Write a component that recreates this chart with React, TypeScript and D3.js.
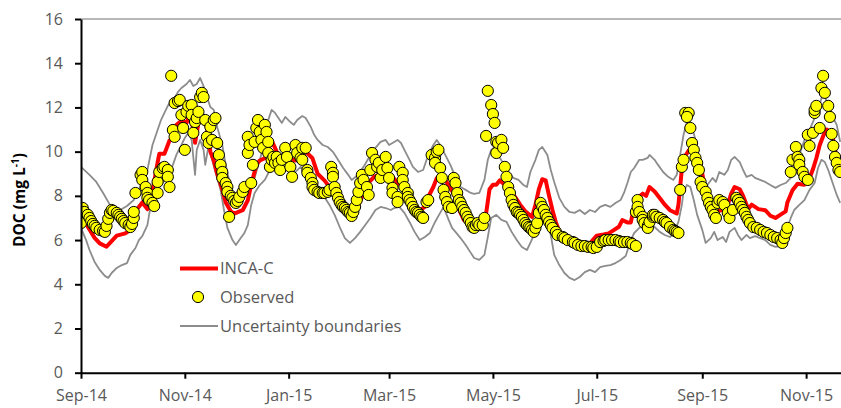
import React, { useEffect, useRef } from 'react';
import * as d3 from 'd3';

// days counted from 1 Sep 2014, DOC in mg/L
const START = Date.UTC(2014, 8, 1);
const LAST_DAY = 446.5;

const incaC: [number, number][] = [
  [0, 7.7], [4, 6.6], [8, 6.1], [11, 5.85], [15, 5.7], [18, 5.95], [21, 6.2], [26, 6.3], [29, 6.45], [31, 6.7],
  [33, 7.4], [36, 7.7], [39, 7.4], [41, 7.6], [42, 8.2], [45, 9.5], [46, 9.9], [49, 9.9], [51, 10.3], [52, 10.5],
  [55, 10.6], [56, 11.2], [59, 11.4], [62, 11.3], [64, 11.7], [66, 11.0], [67, 10.4], [69, 11.3], [70, 11.9], [72, 11.4],
  [74, 11.1], [76, 10.0], [78, 9.6], [80, 9.0], [83, 8.3], [85, 7.7], [88, 7.3], [90, 7.2], [95, 7.35], [98, 7.8],
  [100, 8.5], [103, 9.4], [105, 9.6], [108, 9.7], [110, 10.1], [112, 10.5], [115, 10.0], [117, 9.8], [122, 9.7], [126, 9.6],
  [129, 9.8], [132, 10.0], [136, 9.7], [139, 9.0], [143, 8.7], [146, 8.4], [151, 8.2], [154, 7.7], [157, 7.4], [160, 7.2],
  [163, 7.6], [166, 8.1], [169, 8.6], [172, 8.85], [176, 9.0], [180, 8.9], [183, 8.85], [186, 8.6], [189, 8.4], [191, 8.1],
  [193, 7.95], [196, 7.6], [199, 7.35], [202, 7.5], [203, 7.8], [207, 8.4], [209, 8.8], [211, 8.95], [213, 8.8], [215, 8.6],
  [219, 8.1], [222, 7.4], [225, 6.9], [229, 6.7], [232, 6.7], [236, 6.9], [238, 7.2], [240, 8.3], [242, 8.5], [244, 8.5],
  [246, 8.7], [249, 8.5], [252, 8.2], [255, 7.95], [258, 7.6], [261, 7.3], [265, 7.05], [267, 7.6], [269, 8.3], [271, 8.75],
  [273, 8.7], [275, 8.0], [277, 7.35], [279, 6.8], [281, 6.4], [285, 6.0], [288, 5.85], [292, 5.75], [296, 5.75], [299, 5.85],
  [303, 6.2], [307, 6.25], [310, 6.3], [313, 6.45], [316, 6.6], [318, 6.9], [321, 6.8], [323, 6.8], [325, 7.5], [327, 7.9],
  [330, 8.1], [332, 8.0], [334, 8.4], [337, 8.2], [340, 7.9], [343, 7.6], [346, 7.35], [350, 7.2], [351, 7.6], [353, 9.2],
  [355, 9.8], [357, 10.05], [359, 10.0], [361, 9.6], [364, 9.4], [366, 8.6], [368, 7.6], [371, 7.3], [374, 7.3], [378, 7.4],
  [380, 7.6], [382, 8.1], [384, 8.4], [387, 8.3], [389, 8.0], [392, 7.4], [394, 7.6], [398, 7.4], [402, 7.35], [405, 7.1],
  [408, 7.0], [411, 7.15], [414, 7.3], [415, 7.7], [418, 8.25], [421, 8.55], [425, 8.5], [428, 8.8], [430, 9.2], [432, 9.7],
  [434, 10.3], [436, 10.7], [438, 11.0], [440, 10.9], [442, 10.5], [444, 9.7], [446, 9.2]
];

const upperBound: [number, number][] = [
  [0, 9.31], [5, 8.95], [9, 8.63], [13, 8.13], [17, 7.59], [20, 7.27], [23, 7.36], [27, 7.54], [31, 7.81], [33, 8.13],
  [36, 8.58], [39, 9.17], [42, 10.3], [45, 10.98], [47, 11.43], [49, 11.75], [51, 12.07], [53, 12.29], [55, 12.43], [57, 12.7],
  [59, 12.88], [62, 13.06], [64, 13.24], [66, 12.97], [68, 13.06], [70, 13.33], [72, 12.97], [73, 12.7], [76, 12.02], [78, 11.89],
  [80, 11.12], [83, 10.3], [85, 9.4], [88, 8.4], [90, 7.95], [92, 7.81], [95, 7.95], [97, 8.13], [99, 8.4], [102, 8.81],
  [105, 9.63], [108, 10.39], [110, 11.43], [112, 11.89], [114, 11.75], [116, 11.52], [118, 11.3], [120, 11.57], [123, 11.34], [125, 11.21],
  [127, 11.43], [130, 11.61], [132, 11.52], [135, 11.12], [137, 10.76], [139, 10.53], [142, 10.3], [145, 10.21], [148, 9.99], [151, 9.63],
  [154, 9.26], [157, 8.95], [159, 8.72], [162, 8.9], [164, 9.08], [167, 9.44], [170, 9.85], [173, 10.17], [176, 10.44], [179, 10.53],
  [181, 10.3], [183, 10.39], [186, 10.53], [188, 10.39], [190, 10.08], [193, 9.63], [195, 9.31], [198, 9.08], [201, 9.17], [204, 9.85],
  [207, 10.3], [209, 10.53], [211, 10.3], [214, 9.85], [217, 9.4], [220, 8.86], [223, 8.4], [226, 8.27], [229, 8.13], [231, 8.09],
  [234, 8.13], [237, 8.72], [239, 9.63], [241, 10.08], [243, 10.21], [245, 9.85], [248, 9.49], [251, 9.08], [254, 8.81], [257, 8.72],
  [260, 8.49], [262, 8.4], [264, 9.08], [267, 9.63], [269, 10.08], [271, 10.21], [274, 9.85], [276, 9.17], [278, 8.63], [281, 7.91],
  [284, 7.5], [287, 7.27], [290, 7.23], [293, 7.36], [296, 7.18], [299, 7.36], [302, 7.27], [305, 7.5], [308, 7.59], [311, 7.5],
  [314, 7.68], [317, 7.81], [319, 8.13], [321, 8.58], [323, 9.08], [325, 9.26], [328, 9.63], [330, 9.63], [333, 9.72], [334, 9.85],
  [337, 9.63], [339, 9.4], [342, 9.08], [345, 8.86], [348, 8.72], [350, 8.95], [352, 9.85], [354, 10.76], [356, 11.34], [357, 11.43],
  [359, 11.12], [361, 10.53], [363, 9.63], [365, 8.72], [368, 8.49], [371, 8.81], [373, 8.63], [375, 9.08], [378, 8.95], [380, 9.17],
  [382, 9.63], [384, 9.76], [387, 9.53], [389, 9.17], [391, 8.86], [394, 8.95], [396, 8.81], [399, 8.72], [402, 8.63], [405, 8.49],
  [408, 8.36], [411, 8.49], [414, 8.58], [417, 8.81], [419, 9.17], [422, 9.85], [425, 10.53], [428, 10.98], [431, 11.52], [434, 12.11],
  [435, 12.43], [437, 12.47], [439, 12.11], [441, 11.66], [444, 11.21], [446, 10.44]
];

const lowerBound: [number, number][] = [
  [0, 6.55], [3, 6.0], [5, 5.55], [8, 5.01], [11, 4.65], [14, 4.38], [16, 4.29], [18, 4.51], [21, 4.74], [24, 4.87],
  [27, 4.96], [29, 5.33], [32, 5.64], [34, 6.0], [36, 6.18], [39, 6.68], [41, 7.59], [43, 8.04], [45, 8.36], [48, 8.58],
  [51, 8.95], [54, 9.4], [56, 9.85], [59, 10.3], [61, 10.62], [63, 10.85], [65, 10.53], [67, 8.95], [68, 10.08], [70, 10.53],
  [72, 10.08], [73, 9.4], [75, 10.3], [77, 9.63], [79, 9.08], [82, 8.27], [84, 7.36], [86, 6.55], [89, 6.0], [91, 5.78],
  [93, 6.0], [96, 6.32], [98, 6.68], [100, 7.59], [102, 8.13], [105, 8.49], [108, 8.72], [111, 9.17], [113, 9.53], [116, 9.4],
  [118, 9.17], [120, 9.31], [123, 9.17], [126, 9.08], [129, 9.31], [132, 9.17], [135, 8.95], [137, 8.49], [140, 8.18], [143, 7.95],
  [146, 7.59], [149, 7.14], [152, 6.59], [155, 6.09], [158, 5.87], [161, 6.09], [164, 6.37], [167, 6.68], [170, 7.0], [173, 7.36],
  [176, 7.5], [179, 7.45], [182, 7.36], [184, 7.45], [187, 7.5], [190, 7.23], [193, 6.82], [196, 6.37], [199, 6.0], [202, 6.14],
  [205, 6.32], [208, 6.82], [211, 7.23], [213, 7.5], [216, 6.91], [218, 6.55], [220, 6.37], [223, 6.09], [226, 5.78], [229, 5.42],
  [231, 5.19], [234, 5.1], [237, 5.33], [239, 6.14], [241, 7.0], [244, 7.14], [247, 6.91], [250, 6.82], [253, 6.37], [256, 6.0],
  [259, 5.69], [262, 5.55], [264, 5.87], [267, 6.37], [268, 7.05], [271, 7.23], [273, 6.91], [276, 6.23], [278, 5.33], [281, 4.87],
  [284, 4.51], [287, 4.29], [290, 4.19], [293, 4.33], [296, 4.55], [299, 4.65], [302, 4.55], [305, 4.78], [308, 4.83], [311, 4.87],
  [314, 4.96], [317, 5.1], [320, 5.28], [323, 6.0], [325, 6.32], [328, 6.55], [331, 6.68], [334, 6.82], [337, 6.59], [340, 6.37],
  [343, 6.23], [346, 6.14], [348, 6.28], [351, 6.82], [353, 7.59], [354, 8.18], [356, 8.49], [358, 8.4], [360, 7.81], [362, 7.14],
  [365, 6.46], [367, 5.87], [370, 6.09], [372, 6.37], [374, 6.0], [377, 6.14], [379, 5.91], [381, 6.37], [384, 6.55], [386, 6.23],
  [388, 6.0], [391, 6.23], [393, 6.09], [396, 6.18], [399, 6.09], [402, 6.0], [405, 5.78], [408, 5.69], [411, 5.73], [414, 6.37],
  [417, 7.0], [419, 7.36], [422, 7.59], [425, 7.81], [428, 8.27], [431, 8.58], [433, 9.26], [435, 9.63], [437, 9.53], [439, 9.17],
  [442, 8.49], [444, 8.04], [446, 7.68]
];

const observed: [number, number][] = [
  [0, 6.77], [1, 7.45], [2, 7.27], [4, 7.14], [5, 7.0], [6, 6.86], [7, 6.73], [8, 6.64], [9, 6.55], [11, 6.46],
  [13, 6.41], [14, 6.37], [15, 6.64], [16, 6.96], [17, 7.23], [18, 7.36], [19, 7.32], [21, 7.23], [22, 7.14], [23, 7.05],
  [24, 6.96], [25, 6.86], [26, 6.77], [28, 6.68], [29, 6.59], [30, 6.73], [31, 7.0], [31, 7.27],
  [32, 8.13], [35, 8.95], [36, 9.08], [36, 8.72], [38, 8.4], [39, 8.13], [39, 7.91], [40, 7.81], [42, 7.68], [43, 7.54],
  [45, 8.13], [45, 8.63], [46, 9.08], [48, 9.26], [49, 9.31], [51, 9.17], [51, 8.86], [52, 8.4],
  [53, 13.43], [54, 10.98], [55, 10.67], [55, 12.2], [57, 12.29], [58, 12.34], [59, 11.66], [60, 11.07], [61, 10.08], [62, 11.8],
  [63, 12.07], [65, 12.11], [65, 11.66], [66, 10.85], [67, 11.34], [68, 11.52], [69, 11.8], [70, 12.47], [71, 12.66], [72, 12.47],
  [73, 11.43], [74, 10.67], [75, 10.39], [76, 11.12], [77, 10.53], [78, 11.43], [79, 11.52], [80, 10.39], [81, 9.85], [82, 9.4],
  [83, 9.08], [83, 8.81], [85, 8.58], [86, 8.4], [86, 8.18], [87, 7.05], [88, 8.0], [89, 7.91], [90, 7.77], [91, 7.68],
  [92, 7.77], [93, 7.95], [95, 8.18], [96, 8.4],
  [98, 10.67], [98, 9.94], [99, 10.3], [100, 8.58], [101, 9.4], [102, 10.44], [103, 11.07], [104, 11.43], [105, 10.89], [106, 10.53],
  [107, 10.17], [108, 11.21], [109, 10.89], [110, 10.44], [110, 9.94], [111, 9.31], [112, 9.63], [113, 9.76], [114, 9.49], [115, 9.76],
  [116, 9.49], [117, 9.17], [118, 9.63], [120, 10.17], [121, 9.76], [123, 9.31], [124, 8.86], [126, 10.3], [127, 9.94], [129, 9.72],
  [130, 10.17], [130, 9.63], [132, 10.17], [133, 9.17], [133, 9.04], [135, 8.81], [136, 8.58], [136, 8.4], [137, 8.27], [139, 8.18],
  [140, 8.13], [142, 8.13], [143, 8.13], [145, 8.18], [146, 8.27], [147, 9.31], [148, 9.04], [148, 8.86], [149, 8.4],
  [150, 8.13], [151, 7.91], [152, 7.72], [153, 7.59], [154, 7.5], [155, 7.45], [156, 7.36], [157, 7.27], [158, 7.23], [159, 7.09],
  [160, 7.27], [161, 7.5], [162, 7.81], [163, 8.18], [164, 8.58], [165, 8.95], [166, 8.72], [168, 8.4], [169, 8.04], [170, 9.17],
  [171, 9.94], [173, 9.63], [174, 9.31], [175, 9.49], [176, 8.81], [177, 9.17], [179, 9.76], [180, 9.26], [181, 8.81], [183, 8.36],
  [183, 8.13], [186, 7.95], [186, 7.72], [187, 9.31], [189, 9.04], [189, 8.72], [190, 8.4], [192, 8.13], [192, 7.95], [193, 7.81],
  [194, 7.68], [195, 7.5], [196, 7.36], [197, 7.27], [198, 7.23], [199, 7.14], [200, 7.05], [201, 7.0], [203, 7.72], [204, 7.81],
  [206, 9.85], [208, 9.72], [209, 9.99], [210, 10.08], [208, 9.49], [211, 9.26], [212, 8.81], [213, 8.27], [214, 7.95], [215, 7.72],
  [216, 7.5], [218, 7.45], [219, 8.81], [220, 8.58], [221, 8.13], [222, 7.81],
  [223, 7.68], [224, 7.5], [225, 7.36], [226, 7.23], [227, 7.05], [228, 6.91], [229, 6.77], [230, 6.59], [231, 6.55], [232, 6.68],
  [233, 6.77], [234, 6.68], [236, 6.68], [237, 7.0], [239, 12.75], [238, 10.71], [241, 12.11], [242, 11.7], [243, 11.3], [244, 9.94],
  [244, 10.44], [245, 10.39], [247, 10.53], [248, 10.17], [249, 9.31], [250, 8.86], [251, 8.4], [252, 8.13], [253, 7.81], [254, 7.59],
  [255, 7.45], [256, 7.27], [257, 7.23], [258, 7.14], [259, 7.05], [260, 6.91], [261, 6.77], [262, 6.68], [263, 6.59], [264, 6.55],
  [265, 6.46], [266, 6.37], [267, 6.55], [268, 6.77], [269, 7.23], [270, 7.68], [271, 7.5], [272, 7.36], [273, 7.14], [274, 7.0],
  [275, 6.82], [276, 6.68], [277, 6.55], [279, 6.37], [280, 6.23], [283, 6.14], [284, 6.09], [286, 6.0], [289, 5.91], [290, 5.87],
  [292, 5.78], [294, 5.73], [296, 5.73], [298, 5.69], [300, 5.69], [301, 5.64], [303, 5.69], [305, 5.91], [307, 5.96], [308, 6.0],
  [310, 6.0], [312, 6.0], [314, 6.0], [316, 5.96], [317, 5.91], [319, 5.91], [321, 5.91], [323, 5.87], [324, 5.82], [326, 5.73],
  [327, 7.81], [326, 7.27], [327, 7.5], [328, 7.27], [330, 7.05], [330, 6.91], [331, 6.77], [333, 6.64], [333, 6.55], [334, 6.82],
  [336, 7.05], [336, 7.14], [337, 7.14], [338, 7.05], [340, 7.0], [342, 6.91], [343, 6.82], [344, 6.77], [346, 6.59], [348, 6.46],
  [349, 6.41], [350, 6.37], [351, 6.32],
  [352, 8.27], [353, 9.31], [354, 9.63], [355, 11.75], [357, 11.75], [356, 11.57], [358, 11.07], [359, 10.39], [360, 10.08], [361, 9.72],
  [362, 9.49], [363, 9.17], [364, 8.63], [365, 8.4], [367, 8.18], [368, 7.91], [369, 7.68], [370, 7.5], [371, 7.36], [372, 7.14],
  [373, 7.0], [374, 7.68], [375, 7.81], [377, 7.72], [378, 7.59], [380, 7.23], [381, 7.0], [383, 7.36], [385, 7.91], [386, 7.81],
  [387, 7.68], [388, 7.5], [389, 7.36], [390, 7.23], [391, 7.05], [392, 6.91], [393, 6.77], [395, 6.59], [397, 6.55], [399, 6.46],
  [401, 6.37], [403, 6.32], [405, 6.23], [407, 6.14], [409, 6.09], [411, 6.0], [412, 5.87], [413, 6.09], [414, 6.32], [415, 6.55],
  [417, 9.08], [418, 9.63], [420, 10.21], [421, 9.76], [422, 9.63], [422, 9.4], [424, 9.08], [425, 8.86], [427, 8.72], [427, 10.76],
  [428, 10.26], [430, 10.85], [431, 11.75], [431, 11.89], [432, 12.07], [434, 11.07], [435, 12.88], [436, 13.43], [437, 12.66], [439, 12.07],
  [440, 11.57], [441, 10.8], [442, 10.26], [443, 9.76], [444, 9.49], [445, 9.17], [446, 9.08]
];

const xTicks = ['2014-09-01', '2014-11-01', '2015-01-01', '2015-03-01', '2015-05-01', '2015-07-01', '2015-09-01', '2015-11-01'];
const yTicks = [0, 2, 4, 6, 8, 10, 12, 14, 16];
const legendLabels = ['INCA-C', 'Observed', 'Uncertainty boundaries'];

const FONT = "'Open Sans', sans-serif";

const Chart = () => {
  const ref = useRef<HTMLDivElement>(null);

  useEffect(() => {
    drawChart();
  }, []);

  const drawChart = () => {
    const widthValue = 841;
    const heightValue = 408;
    const left = 81;
    const right = 841;
    const top = 19;
    const bottom = 372.7;

    d3.select(ref.current).selectAll('*').remove();

    const svg = d3
      .select(ref.current)
      .append('svg')
      .attr('width', widthValue)
      .attr('height', heightValue)
      .style('display', 'block')
      .style('font-family', FONT);

    const toDate = (d: number) => new Date(START + d * 864e5);

    const xScale = d3.scaleUtc().domain([toDate(0), toDate(LAST_DAY)]).range([left, right]);
    const yScale = d3.scaleLinear().domain([0, 16]).range([bottom, top]);

    svg
      .append('defs')
      .append('clipPath')
      .attr('id', 'plot-clip')
      .append('rect')
      .attr('x', left)
      .attr('y', 0)
      .attr('width', right - left)
      .attr('height', bottom);

    // top gridline at 16
    svg
      .append('line')
      .attr('x1', left)
      .attr('x2', right)
      .attr('y1', yScale(16))
      .attr('y2', yScale(16))
      .attr('stroke', '#a0a0a0')
      .attr('stroke-width', 1.3);

    const line = d3
      .line<[number, number]>()
      .x(d => xScale(toDate(d[0])))
      .y(d => yScale(d[1]));

    const plot = svg.append('g').attr('clip-path', 'url(#plot-clip)');

    [upperBound, lowerBound].forEach(series => {
      plot
        .append('path')
        .datum(series)
        .attr('d', line)
        .attr('fill', 'none')
        .attr('stroke', '#8c8c8c')
        .attr('stroke-width', 1.8)
        .attr('stroke-linejoin', 'round');
    });

    plot
      .append('path')
      .datum(incaC)
      .attr('d', line)
      .attr('fill', 'none')
      .attr('stroke', '#ff0000')
      .attr('stroke-width', 4)
      .attr('stroke-linejoin', 'round');

    plot
      .selectAll('circle.obs')
      .data(observed)
      .join('circle')
      .attr('class', 'obs')
      .attr('cx', d => xScale(toDate(d[0])))
      .attr('cy', d => yScale(d[1]))
      .attr('r', 5.6)
      .attr('fill', '#ffff00')
      .attr('stroke', '#000')
      .attr('stroke-width', 1);

    // axes
    const yAxis = svg
      .append('g')
      .attr('transform', `translate(${left},0)`)
      .call(d3.axisLeft(yScale).tickValues(yTicks).tickSize(6).tickSizeOuter(0).tickPadding(12));

    const xAxis = svg
      .append('g')
      .attr('transform', `translate(0,${bottom})`)
      .call(
        d3
          .axisBottom(xScale)
          .tickValues(xTicks.map(t => new Date(t + 'T00:00:00Z')))
          .tickFormat(d => d3.utcFormat('%b-%y')(d as Date))
          .tickSize(6)
          .tickSizeOuter(0)
          .tickPadding(11)
      );

    [yAxis, xAxis].forEach(axis => {
      axis.select('.domain').attr('stroke', '#000').attr('stroke-width', 2);
      axis.selectAll('.tick line').attr('stroke', '#000').attr('stroke-width', 2);
      axis
        .selectAll('.tick text')
        .attr('fill', '#595959')
        .style('font-size', '16px')
        .style('font-family', FONT);
    });

    // y label
    const yLabel = svg
      .append('text')
      .attr('transform', 'translate(25,200) rotate(-90)')
      .attr('text-anchor', 'middle')
      .attr('font-weight', 'bold')
      .attr('font-size', 15.5)
      .attr('fill', '#000');
    yLabel.append('tspan').text('DOC (mg L');
    yLabel.append('tspan').attr('dy', -6).attr('font-size', 10).text('-1');
    yLabel.append('tspan').attr('dy', 6).text(')');

    // legend
    const legend = svg.append('g');
    const rows = [268.5, 297, 326];

    legend
      .append('line')
      .attr('x1', 180)
      .attr('x2', 218)
      .attr('y1', rows[0])
      .attr('y2', rows[0])
      .attr('stroke', '#ff0000')
      .attr('stroke-width', 4);
    legend
      .append('circle')
      .attr('cx', 198)
      .attr('cy', rows[1])
      .attr('r', 5.6)
      .attr('fill', '#ffff00')
      .attr('stroke', '#000');
    legend
      .append('line')
      .attr('x1', 180)
      .attr('x2', 218)
      .attr('y1', rows[2])
      .attr('y2', rows[2])
      .attr('stroke', '#8c8c8c')
      .attr('stroke-width', 1.8);

    legend
      .selectAll('text')
      .data(legendLabels)
      .join('text')
      .attr('x', 220)
      .attr('y', (d, i) => rows[i])
      .attr('dy', '0.35em')
      .attr('fill', '#595959')
      .attr('font-size', 16.5)
      .text(d => d);
  };

  return <div ref={ref} style={{ position: 'absolute', left: 0, top: 0, width: 841, height: 408 }} />;
};

export default function App() {
  return <Chart />;
}
